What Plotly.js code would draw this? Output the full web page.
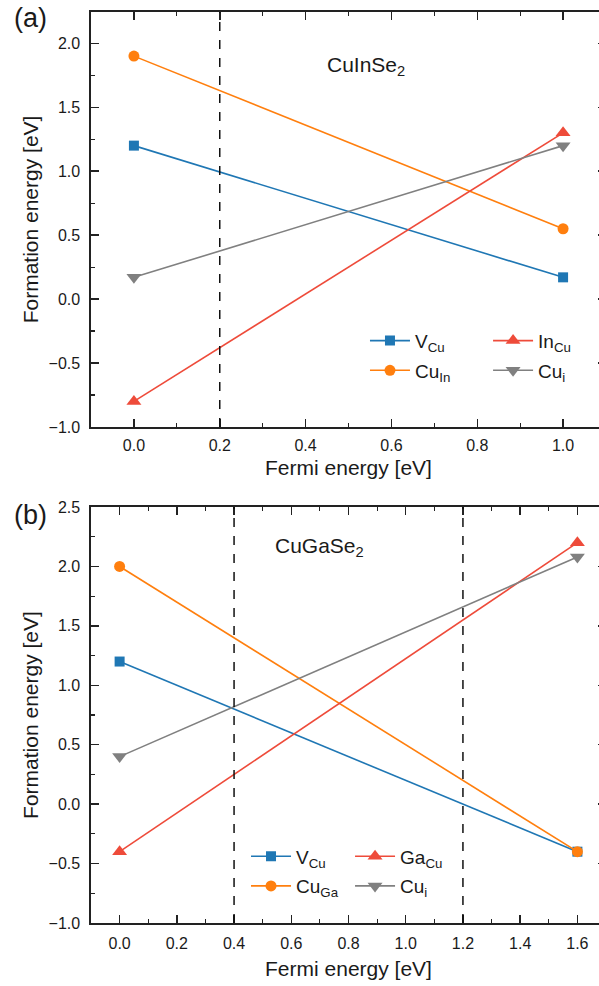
<!DOCTYPE html>
<html>
<head>
<meta charset="utf-8">
<script src="https://cdn.plot.ly/plotly-3.0.1.min.js"></script>
<style>
html, body { margin: 0; padding: 0; overflow: hidden; background: #fff; }
#chart { width: 610px; height: 986px; }
</style>
</head>
<body>
<div id="chart"></div>
<script>
// Panel (a): CuInSe2
const xA = [0, 1];
const vCuA = [1.2, 0.17];
const cuInA = [1.9, 0.55];
const inCuA = [-0.8, 1.3];
const cuiA = [0.17, 1.2];
const dashA = [0.2];

// Panel (b): CuGaSe2
const xB = [0, 1.6];
const vCuB = [1.2, -0.4];
const cuGaB = [2.0, -0.4];
const gaCuB = [-0.4, 2.2];
const cuiB = [0.4, 2.08];
const dashB = [0.4, 1.2];

const namesA = ['V<sub>Cu</sub>', 'Cu<sub>In</sub>', 'In<sub>Cu</sub>', 'Cu<sub>i</sub>'];
const namesB = ['V<sub>Cu</sub>', 'Cu<sub>Ga</sub>', 'Ga<sub>Cu</sub>', 'Cu<sub>i</sub>'];

const C_BLUE = '#1f77b4', C_ORANGE = '#ff7f0e', C_RED = '#ee4b3a', C_GRAY = '#808080';

function tr(x, y, name, color, symbol, size, xa, ya, leg, grp) {
  return {
    x: x, y: y, name: name, type: 'scatter', mode: 'lines+markers',
    line: {color: color, width: 1.6},
    marker: {color: color, symbol: symbol, size: size},
    xaxis: xa, yaxis: ya, legend: leg, legendgroup: grp
  };
}

const data = [
  tr(xA, vCuA, namesA[0], C_BLUE, 'square', 10, 'x', 'y', 'legend', 'a1'),
  tr(xA, cuInA, namesA[1], C_ORANGE, 'circle', 11, 'x', 'y', 'legend', 'a2'),
  tr(xA, inCuA, namesA[2], C_RED, 'triangle-up', 13, 'x', 'y', 'legend2', 'a3'),
  tr(xA, cuiA, namesA[3], C_GRAY, 'triangle-down', 13, 'x', 'y', 'legend2', 'a4'),
  tr(xB, vCuB, namesB[0], C_BLUE, 'square', 10, 'x2', 'y2', 'legend3', 'b1'),
  tr(xB, cuGaB, namesB[1], C_ORANGE, 'circle', 11, 'x2', 'y2', 'legend3', 'b2'),
  tr(xB, gaCuB, namesB[2], C_RED, 'triangle-up', 13, 'x2', 'y2', 'legend4', 'b3'),
  tr(xB, cuiB, namesB[3], C_GRAY, 'triangle-down', 13, 'x2', 'y2', 'legend4', 'b4')
];

const FONT = 'Liberation Sans, Arial, sans-serif';
const tickFont = {family: FONT, size: 16, color: '#1a1a1a'};
const titleFont = {family: FONT, size: 21, color: '#1a1a1a'};

function minorT(d) {
  return {ticks: 'inside', ticklen: 4, tickwidth: 1.2, tickcolor: '#222', dtick: d};
}
function axisBase() {
  return {
    showline: true, linecolor: '#222', linewidth: 1.6, mirror: 'ticks',
    ticks: 'inside', ticklen: 8, tickwidth: 1.5, tickcolor: '#222',
    showgrid: false, zeroline: false, tickfont: tickFont
  };
}

const xaxis = Object.assign(axisBase(), {
  range: [-0.1, 1.1], dtick: 0.2, tick0: 0, tickformat: '.1f', minor: minorT(0.1),
  ticklabelstandoff: 3,
  anchor: 'y', domain: [0, 1],
  title: {text: 'Fermi energy [eV]', font: titleFont, standoff: 7}
});
const yaxis = Object.assign(axisBase(), {
  range: [-1, 2.245], dtick: 0.5, tick0: 0, tickformat: '.1f', minor: minorT(0.25),
  ticklabelstandoff: 6,
  anchor: 'x', domain: [0.5445, 1],
  title: {text: 'Formation energy [eV]', font: titleFont, standoff: 4}
});
const xaxis2 = Object.assign(axisBase(), {
  range: [-0.1, 1.7], dtick: 0.2, tick0: 0, tickformat: '.1f', minor: minorT(0.1),
  ticklabelstandoff: 5,
  anchor: 'y2', domain: [0, 1],
  title: {text: 'Fermi energy [eV]', font: titleFont, standoff: 10}
});
const yaxis2 = Object.assign(axisBase(), {
  range: [-1, 2.5], dtick: 0.5, tick0: 0, tickformat: '.1f', minor: minorT(0.25),
  ticklabelstandoff: 6,
  anchor: 'x2', domain: [0, 0.4566],
  title: {text: 'Formation energy [eV]', font: titleFont, standoff: 4}
});

const shapes = [];
dashA.forEach(v => shapes.push({type: 'line', xref: 'x', yref: 'y domain', x0: v, x1: v, y0: 0, y1: 1,
  line: {color: '#111', width: 1.5, dash: 'dash'}}));
dashB.forEach(v => shapes.push({type: 'line', xref: 'x2', yref: 'y2 domain', x0: v, x1: v, y0: 0, y1: 1,
  line: {color: '#111', width: 1.5, dash: 'dash'}}));

const legFont = {family: FONT, size: 19, color: '#1a1a1a'};
function leg(x, y) {
  return {x: x, y: y, xanchor: 'left', yanchor: 'top', bgcolor: 'rgba(0,0,0,0)',
    font: legFont, tracegroupgap: 2, orientation: 'v', itemwidth: 40};
}

const layout = {
  width: 610, height: 986,
  margin: {l: 91, r: 4, t: 12, b: 63},
  paper_bgcolor: '#fff', plot_bgcolor: '#fff',
  font: {family: FONT, color: '#1a1a1a'},
  xaxis: xaxis, yaxis: yaxis, xaxis2: xaxis2, yaxis2: yaxis2,
  shapes: shapes,
  showlegend: true,
  legend: leg(0.532, 0.66),
  legend2: leg(0.771, 0.66),
  legend3: leg(0.301, 0.094),
  legend4: leg(0.503, 0.094),
  annotations: [
    {text: '(a)', xref: 'paper', yref: 'paper', x: -0.153, y: 1.012, xanchor: 'left', yanchor: 'top',
      showarrow: false, font: {family: FONT, size: 27, color: '#1a1a1a'}},
    {text: '(b)', xref: 'paper', yref: 'paper', x: -0.153, y: 0.467, xanchor: 'left', yanchor: 'top',
      showarrow: false, font: {family: FONT, size: 27, color: '#1a1a1a'}},
    {text: 'CuInSe<sub>2</sub>', xref: 'x', yref: 'y', x: 0.54, y: 1.82, xanchor: 'center', yanchor: 'middle',
      showarrow: false, font: {family: FONT, size: 21, color: '#1a1a1a'}},
    {text: 'CuGaSe<sub>2</sub>', xref: 'x2', yref: 'y2', x: 0.7, y: 2.16, xanchor: 'center', yanchor: 'middle',
      showarrow: false, font: {family: FONT, size: 21, color: '#1a1a1a'}}
  ]
};

Plotly.newPlot('chart', data, layout, {displayModeBar: false, staticPlot: true});
</script>
</body>
</html>
